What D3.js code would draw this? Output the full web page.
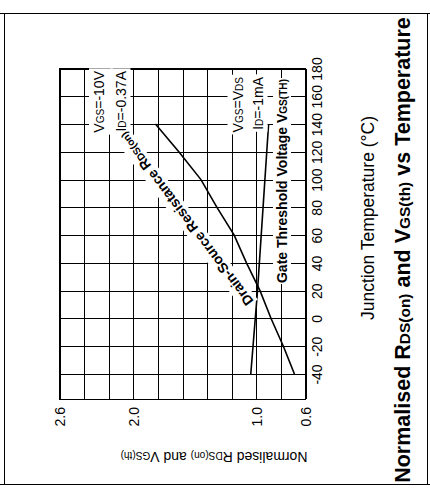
<!DOCTYPE html>
<html><head><meta charset="utf-8">
<script src="https://cdn.jsdelivr.net/npm/d3@7"></script>
<style>
body{margin:0;background:#fff}
svg{display:block}
text{font-family:"Liberation Sans",Arial,Helvetica,sans-serif;fill:#000}
</style>
</head><body>
<svg id="c" width="430" height="494"></svg>
<script>
// ---- data ----
const tempTicks = [-40,-20,0,20,40,60,80,100,120,140,160,180];
const normTicks = [2.6,2.0,1.0,0.6];
const normGrid  = [2.6,2.4,2.2,2.0,1.8,1.6,1.4,1.2,1.0,0.8,0.6];
const rdsTemps  = [-40,-20,0,20,40,60,80,100,120,140];
const rdsValues = [0.69,0.78,0.88,0.97,1.08,1.18,1.32,1.45,1.63,1.82];
const vgsTemps  = [-40,20,80,140];
const vgsValues = [1.045,0.99,0.945,0.90];

const svg = d3.select("#c");

// page frame
const frame = svg.append("g").attr("stroke","#000").attr("stroke-width",1);
frame.append("line").attr("x1",0).attr("x2",430).attr("y1",13.5).attr("y2",13.5);
frame.append("line").attr("x1",0).attr("x2",430).attr("y1",484.5).attr("y2",484.5);
frame.append("line").attr("x1",4.5).attr("x2",4.5).attr("y1",13.5).attr("y2",484.5);
frame.append("line").attr("x1",427.5).attr("x2",427.5).attr("y1",13.5).attr("y2",484.5);

// scales (chart is drawn rotated: value runs horizontally, temperature vertically)
const x = d3.scaleLinear().domain([2.6,0.6]).range([59.5,305.5]);
const y = d3.scaleLinear().domain([-58,180]).range([399,68.5]);

// grid
const grid = svg.append("g").attr("stroke","#000").attr("stroke-width",1).attr("shape-rendering","crispEdges");
grid.selectAll("line.v").data(normGrid).join("line")
  .attr("x1",d=>Math.round(x(d))+0.5).attr("x2",d=>Math.round(x(d))+0.5)
  .attr("y1",y.range()[1]).attr("y2",y.range()[0]);
grid.selectAll("line.h").data(tempTicks).join("line")
  .attr("y1",d=>Math.round(y(d))+0.5).attr("y2",d=>Math.round(y(d))+0.5)
  .attr("x1",x.range()[0]).attr("x2",x.range()[1]);
grid.append("rect").attr("x",59.5).attr("y",68.5).attr("width",246).attr("height",330.5).attr("fill","none");

// temperature axis (right side)
const ax = svg.append("g").attr("transform","translate(305.5,0)")
  .call(d3.axisRight(y).tickValues(tempTicks).tickSize(0).tickFormat(d=>String(d)));
ax.select(".domain").remove();
ax.selectAll("text").attr("x",0).attr("dy",null)
  .attr("transform","translate(16,0) rotate(-90)")
  .attr("text-anchor","middle").attr("font-size",14).attr("font-family",null);

// value axis (bottom)
const bx = svg.append("g").attr("transform","translate(0,399)")
  .call(d3.axisBottom(x).tickValues(normTicks).tickSize(0).tickFormat(d3.format(".1f")));
bx.select(".domain").remove();
bx.selectAll("text").attr("y",0).attr("dy","0.35em")
  .attr("transform","translate(0,8) rotate(-90)")
  .attr("text-anchor","end").attr("font-size",14).attr("font-family",null);

// curves
const line = d3.line().x(d=>x(d[1])).y(d=>y(d[0]));
svg.append("path").datum(rdsTemps.map((t,i)=>[t,rdsValues[i]]))
  .attr("d",line).attr("fill","none").attr("stroke","#000").attr("stroke-width",1.6);
svg.append("path").datum(vgsTemps.map((t,i)=>[t,vgsValues[i]]))
  .attr("d",line).attr("fill","none").attr("stroke","#000").attr("stroke-width",1.6);

// text helper with white background
function label(parts, opt){
  const g = svg.append("g").attr("transform",opt.transform);
  const bg = g.append("rect").attr("fill","#fff");
  const t = g.append("text").attr("font-size",opt.size).attr("font-weight",opt.weight||"normal")
    .attr("text-anchor",opt.anchor||"start").attr("dy",opt.dy||null);
  parts.forEach(p=>{
    t.append("tspan").attr("font-size",p.sub?opt.size*0.72:null).text(p.t);
  });
  if(opt.bg){
    const b = t.node().getBBox();
    const p = opt.pad||1, pb = opt.padB!=null?opt.padB:p;
    bg.attr("x",b.x-p).attr("y",b.y-p).attr("width",b.width+2*p).attr("height",b.height+p+pb);
  } else bg.remove();
  return g;
}

// annotations
label([{t:"V"},{t:"GS",sub:1},{t:"=-10V"}],{size:14,anchor:"end",transform:"translate(104,71) rotate(-90)",bg:1,pad:2,padB:6});
label([{t:"I"},{t:"D",sub:1},{t:"=-0.37A"}],{size:14,anchor:"end",transform:"translate(125.5,71) rotate(-90)",bg:1,pad:2});
label([{t:"V"},{t:"GS",sub:1},{t:"=V"},{t:"DS",sub:1}],{size:14,anchor:"end",transform:"translate(242.5,77) rotate(-90)",bg:1,pad:2,padB:6});
label([{t:"I"},{t:"D",sub:1},{t:"=-1mA"}],{size:14,anchor:"end",transform:"translate(262.5,77) rotate(-90)",bg:1,pad:2});
label([{t:"Gate Threshold Voltage V"},{t:"GS(TH)",sub:1}],{size:14,weight:"bold",anchor:"end",transform:"translate(287,79) rotate(-90)",bg:1,pad:1});
label([{t:"Drain-Source Resistance R"},{t:"DS(on)",sub:1}],{size:14,weight:"bold",anchor:"middle",dy:"0.35em",transform:"translate(186,219) rotate(-127)",bg:1,pad:1});

// axis titles
label([{t:"Normalised R"},{t:"DS(on)",sub:1},{t:" and V"},{t:"GS(th)",sub:1}],{size:14,anchor:"middle",transform:"translate(214,452) rotate(180)"});
label([{t:"Junction Temperature (°C)"}],{size:17.5,anchor:"middle",transform:"translate(374,218) rotate(-90)"});
label([{t:"Normalised R"},{t:"DS(on)",sub:1},{t:" and V"},{t:"GS(th)",sub:1},{t:" vs Temperature"}],{size:21.5,weight:"bold",anchor:"middle",transform:"translate(410,250) rotate(-90)"});
</script>
</body></html>
